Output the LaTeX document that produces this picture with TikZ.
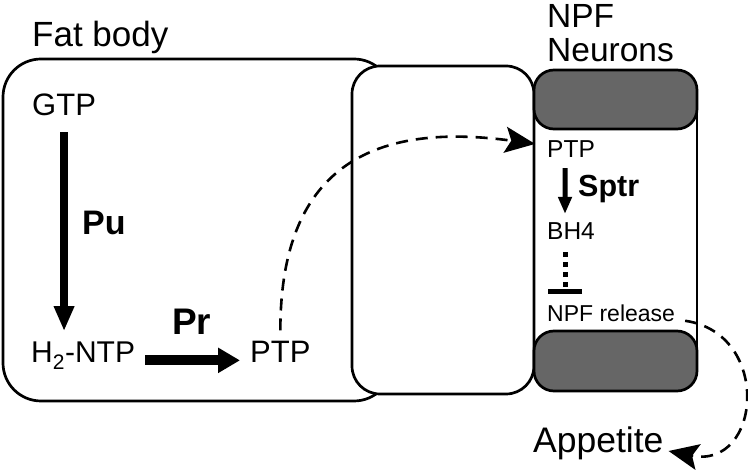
\documentclass[tikz,border=0pt]{standalone}
\usepackage{fontspec}
\setmainfont{Liberation Sans}
\usetikzlibrary{arrows.meta}
\definecolor{vesicle}{HTML}{666666}

\begin{document}
\begin{tikzpicture}[x=1pt, y=-1pt,
  lbl/.style={inner sep=0pt, anchor=base west},
  membrane/.style={draw, line width=2.7pt, fill=white},
  granule/.style={draw, line width=2.7pt, fill=vesicle, rounded corners=20pt},
  enzyme/.style={line width=8pt, -{Triangle[width=19pt,length=25pt]}},
  secrete/.style={line width=2.6pt, dash pattern=on 12pt off 8pt, -{Stealth[length=30pt,width=26pt,inset=6pt]}}
]
\useasboundingbox (0,0) rectangle (748,470);
% tissues
\draw[membrane, rounded corners=38pt] (3,59) rectangle (392,401);
\draw[membrane, rounded corners=28pt] (352,66) rectangle (534,394);
\draw[line width=2.7pt] (534,100) -- (534,360) (697,100) -- (697,360);
\draw[granule] (534,70) rectangle (697,129);
\draw[granule] (534,331) rectangle (697,391);

% labels
\node[lbl, font=\fontsize{35}{42}\selectfont] (fatbody) at (32,47) {Fat body};
\node[lbl, font=\fontsize{33.5}{40}\selectfont] (npf) at (547,28) {NPF};
\node[lbl, font=\fontsize{33.5}{40}\selectfont] (neurons) at (547,62) {Neurons};
\node[lbl, font=\fontsize{31}{37}\selectfont] (gtp) at (32,116) {GTP};
\node[lbl, font=\fontsize{30}{36}\selectfont] (h2ntp) at (31,363) {H\textsubscript{2}-NTP};
\node[lbl, font=\fontsize{31}{37}\selectfont] (ptp) at (250,363) {PTP};
\node[lbl, font=\fontsize{34}{40}\bfseries] (pu) at (82,235) {Pu};
\node[lbl, font=\fontsize{37}{44}\bfseries] (pr) at (172,335) {Pr};
\node[lbl, font=\fontsize{24.5}{30}\selectfont] (nptp) at (547,158) {PTP};
\node[lbl, font=\fontsize{30.5}{36}\bfseries] (sptr) at (578,197) {Sptr};
\node[lbl, font=\fontsize{24.5}{30}\selectfont] (bh4) at (547,240) {BH4};
\node[lbl, font=\fontsize{23}{28}\selectfont] (npfrel) at (547,322) {NPF release};
\node[lbl, font=\fontsize{35.5}{42}\selectfont] (appetite) at (533,453) {Appetite};

% pathway
\draw[enzyme, shorten <=16pt, shorten >=11pt] (gtp.south) -- (gtp.south |- h2ntp.north);
\draw[enzyme, line width=10pt, -{Triangle[width=24pt,length=22pt]}, shorten <=10pt, shorten >=10pt] (h2ntp.mid east) -- (ptp.mid west);
\draw[line width=5pt, -{Triangle[width=13pt,length=17pt]}, shorten <=10pt, shorten >=9pt] ([xshift=-6pt]nptp.south) -- ([xshift=-6pt]bh4.north);
\draw[line width=5pt, dash pattern=on 5pt off 5pt, -{Bar[width=34pt]}, shorten <=12pt, shorten >=11pt] ([xshift=-6pt]bh4.south) -- ([xshift=-6pt]bh4.south |- npfrel.north);
\draw[secrete, shorten <=11pt, shorten >=12pt] (ptp.north) .. controls +(0,-181) and +(-167,-23) .. ([yshift=4pt]nptp.west);
\draw[secrete, shorten <=10pt, shorten >=5pt] (npfrel.mid east) .. controls +(97,14) and +(98,20) .. ([yshift=3pt]appetite.base east);
\end{tikzpicture}
\end{document}
